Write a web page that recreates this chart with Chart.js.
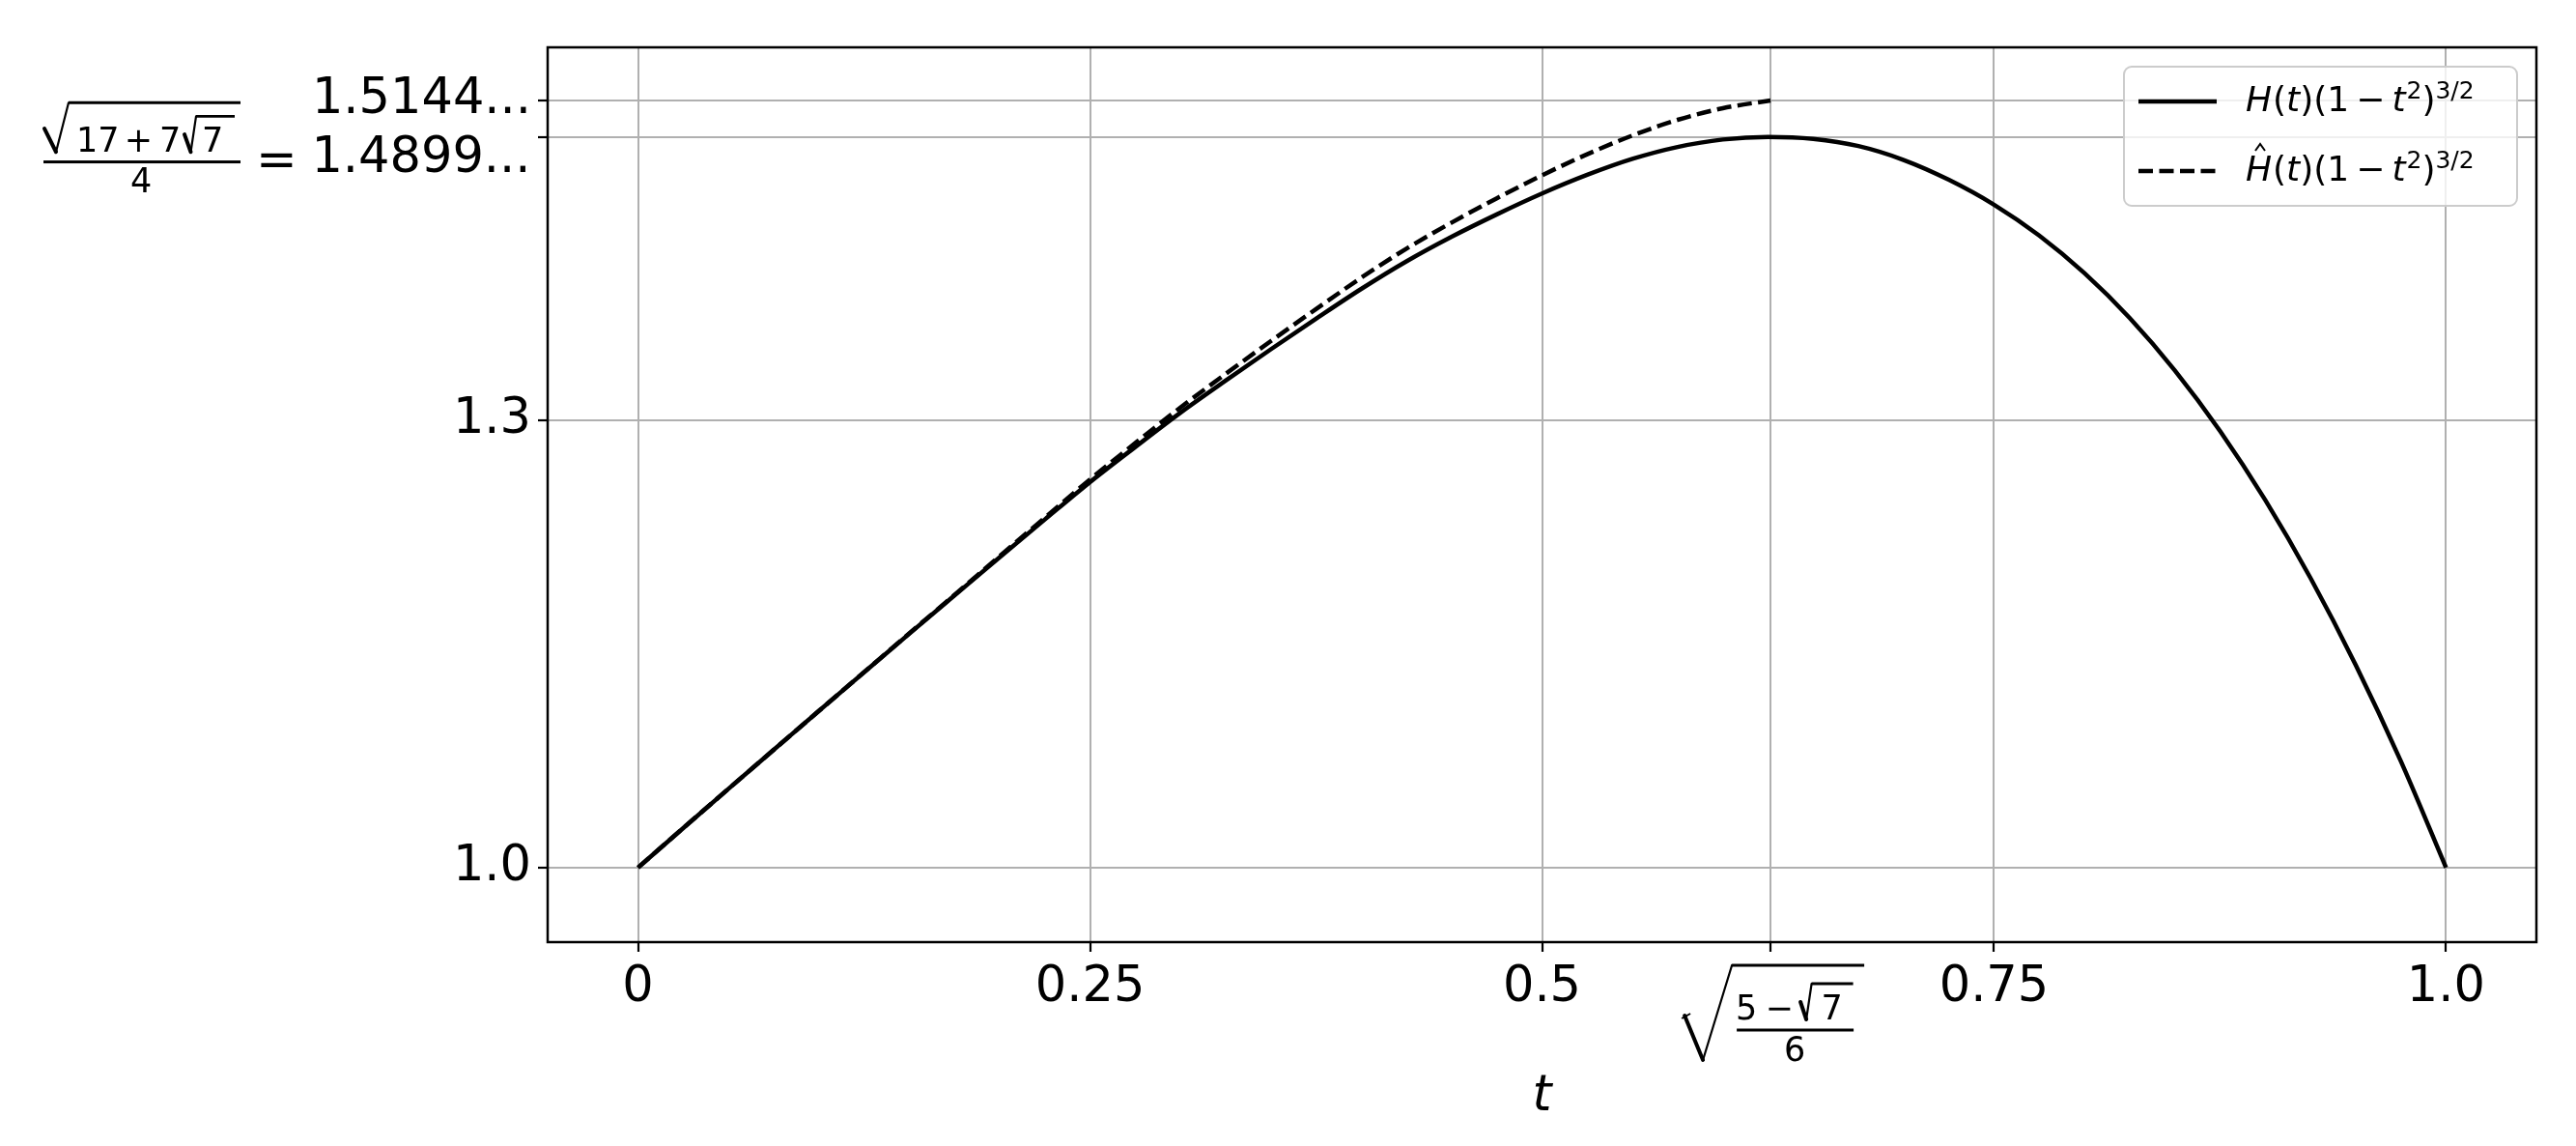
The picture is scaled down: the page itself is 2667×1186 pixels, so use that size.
<!DOCTYPE html>
<html>
<head>
<meta charset="utf-8">
<script src="https://cdn.jsdelivr.net/npm/chart.js@4.4.1/dist/chart.umd.min.js"></script>
<style>
  html, body { margin: 0; padding: 0; background: #fff; }
  #wrap { width: 2667px; height: 1186px; }
</style>
</head>
<body>
<div id="wrap"><canvas id="myChart" width="2667" height="1186"></canvas></div>
<script>
// curve samples
var tValues = [0, 0.025, 0.05, 0.075, 0.1, 0.125, 0.15, 0.175, 0.2, 0.225, 0.25, 0.275, 0.3, 0.325, 0.35, 0.375, 0.4, 0.425, 0.45, 0.475, 0.5,
  0.525, 0.55, 0.575, 0.6, 0.625, 0.65, 0.675, 0.7, 0.725, 0.75, 0.775, 0.8, 0.825, 0.85, 0.875, 0.9, 0.925, 0.95, 0.975, 1.0];
var hValues = [1.000, 1.0265, 1.0528, 1.0789, 1.105, 1.1309, 1.1568, 1.1824, 1.208, 1.2334, 1.2585, 1.282, 1.305, 1.3265, 1.3475, 1.368, 1.388, 1.4065, 1.423, 1.438, 1.452,
  1.4645, 1.4752, 1.4832, 1.4882, 1.4899, 1.4886, 1.4838, 1.4745, 1.4612, 1.4445, 1.4238, 1.3986, 1.3686, 1.3334, 1.2928, 1.2465, 1.1943, 1.136, 1.0714, 1.000];
var tHatValues = [0, 0.025, 0.05, 0.075, 0.1, 0.125, 0.15, 0.175, 0.2, 0.225, 0.25, 0.275, 0.3, 0.325, 0.35, 0.375, 0.4, 0.425, 0.45, 0.475, 0.5,
  0.525, 0.55, 0.575, 0.6, 0.6264];
var hHatValues = [1.000, 1.0265, 1.0528, 1.0789, 1.105, 1.131, 1.157, 1.1828, 1.2088, 1.2346, 1.2603, 1.2846, 1.3085, 1.331, 1.353, 1.3745, 1.3955, 1.415, 1.4325, 1.4488, 1.4642,
  1.4783, 1.4909, 1.5014, 1.5092, 1.5144];

var xTicks = [0, 0.25, 0.5, 0.6264, 0.75, 1.0];
var xTickLabels = ['0', '0.25', '0.5', '√((5 − √7)/6)', '0.75', '1.0'];
var yTicks = [1.0, 1.3, 1.4899, 1.5144];
var yTickLabels = ['1.0', '1.3', '√(17 + 7√7)/4 = 1.4899...', '1.5144...'];
var seriesNames = ['H(t)(1 − t²)^(3/2)', 'Ĥ(t)(1 − t²)^(3/2)'];

var FONT = '"DejaVu Sans", sans-serif';

function points(xs, ys) {
  return xs.map(function (x, i) { return { x: x, y: ys[i] }; });
}

function isMath(label) {
  return label.indexOf('√') >= 0;
}

// small text helper, returns the advance width
function put(ctx, s, x, y, size, italic) {
  ctx.font = (italic ? 'italic ' : '') + size + 'px ' + FONT;
  ctx.textAlign = 'left';
  ctx.textBaseline = 'alphabetic';
  ctx.fillText(s, x, y);
  return ctx.measureText(s).width;
}

// radical sign: start, V bottom, top, end of overline
function radical(ctx, p0, p1, p2, p3) {
  ctx.save();
  ctx.strokeStyle = '#000';
  ctx.lineCap = 'round';
  ctx.lineJoin = 'round';
  ctx.lineWidth = 4;
  ctx.beginPath(); ctx.moveTo(p0[0], p0[1]); ctx.lineTo(p1[0], p1[1]); ctx.stroke();
  ctx.lineWidth = 2.2;
  ctx.beginPath(); ctx.moveTo(p1[0], p1[1]); ctx.lineTo(p2[0], p2[1]); ctx.stroke();
  ctx.lineWidth = 2.8;
  ctx.lineCap = 'butt';
  ctx.beginPath(); ctx.moveTo(p2[0], p2[1]); ctx.lineTo(p3[0], p3[1]); ctx.stroke();
  ctx.restore();
}

function bar(ctx, x1, x2, y) {
  ctx.fillRect(x1, y - 1.5, x2 - x1, 3);
}

// draw the two math tick labels and the axis title
var mathLabels = {
  id: 'mathLabels',
  afterDraw: function (chart) {
    var ctx = chart.ctx;
    var xs = chart.scales.x, ys = chart.scales.y;
    var b = chart.chartArea.bottom;
    ctx.save();
    ctx.fillStyle = '#000';

    // x tick: sqrt((5 - sqrt7)/6)
    xTicks.forEach(function (v, i) {
      if (!isMath(xTickLabels[i])) return;
      var x0 = xs.getPixelForValue(v);
      radical(ctx, [x0 - 89, b + 76], [x0 - 70, b + 122], [x0 - 40, b + 24], [x0 + 97, b + 24]);
      ctx.lineWidth = 2;
      ctx.beginPath(); ctx.moveTo(x0 - 92, b + 79); ctx.lineTo(x0 - 83, b + 74); ctx.stroke();
      bar(ctx, x0 - 35, x0 + 86, b + 91);
      put(ctx, '5', x0 - 36, b + 80, 35);
      put(ctx, '−', x0 - 5.5, b + 80, 35);
      radical(ctx, [x0 + 31, b + 62], [x0 + 37, b + 80], [x0 + 42.5, b + 43], [x0 + 85.5, b + 43]);
      put(ctx, '7', x0 + 52.5, b + 80, 35);
      put(ctx, '6', x0 + 14, b + 123, 35);
    });

    // y tick: sqrt(17 + 7 sqrt7)/4 = 1.4899...
    yTicks.forEach(function (v, i) {
      if (!isMath(yTickLabels[i])) return;
      var y0 = ys.getPixelForValue(v);
      var R = chart.chartArea.left - 17.5;
      ctx.font = '51px ' + FONT;
      ctx.textAlign = 'right';
      ctx.textBaseline = 'alphabetic';
      ctx.fillText('1.4899...', R, y0 + 36);
      put(ctx, '=', R - 284.5, y0 + 40, 51);
      var L = R - 504.5; // left edge of the fraction
      bar(ctx, L, L + 204, y0 + 25.8);
      radical(ctx, [L + 1, y0 - 8.7], [L + 13, y0 + 15.5], [L + 26, y0 - 35.5], [L + 204, y0 - 35.5]);
      put(ctx, '17', L + 34, y0 + 15.5, 35);
      put(ctx, '+', L + 83.8, y0 + 15.5, 35);
      put(ctx, '7', L + 119.9, y0 + 15.5, 35);
      radical(ctx, [L + 146, y0 - 2.7], [L + 152.5, y0 + 15.5], [L + 158, y0 - 21.4], [L + 198, y0 - 21.4]);
      put(ctx, '7', L + 163.9, y0 + 15.5, 35);
      put(ctx, '4', L + 89.9, y0 + 57, 35);
    });

    // axis title
    ctx.font = 'italic 51px ' + FONT;
    ctx.textAlign = 'center';
    ctx.fillText('t', (chart.chartArea.left + chart.chartArea.right) / 2, b + 174);
    ctx.restore();
  }
};

// black frame round the plot
var frame = {
  id: 'frame',
  afterDatasetsDraw: function (chart) {
    var a = chart.chartArea, ctx = chart.ctx;
    ctx.save();
    ctx.strokeStyle = '#000';
    ctx.lineWidth = 2.5;
    ctx.strokeRect(a.left, a.top, a.right - a.left, a.bottom - a.top);
    ctx.restore();
  }
};

// legend entry text: H(t)(1 - t^2)^{3/2}, laid out piece by piece
function legendText(ctx, x, y, hat) {
  var big = 36, sup = 25, up = 13;
  var hx = x;
  x += put(ctx, 'H', x, y, big, true) + 1;
  if (hat) {
    ctx.save();
    ctx.lineWidth = 2;
    ctx.beginPath();
    ctx.moveTo(hx + 10, y - 31); ctx.lineTo(hx + 15, y - 38); ctx.lineTo(hx + 20, y - 31);
    ctx.stroke();
    ctx.restore();
  }
  x += put(ctx, '(', x, y, big);
  x += put(ctx, 't', x, y, big, true);
  x += put(ctx, ')', x, y, big);
  x += put(ctx, '(', x, y, big);
  x += put(ctx, '1', x, y, big) + 7;
  x += put(ctx, '−', x, y, big) + 7;
  x += put(ctx, 't', x, y, big, true) + 1;
  x += put(ctx, '2', x, y - up, sup);
  x += put(ctx, ')', x, y, big);
  put(ctx, '3/2', x, y - up, sup);
}

var legendBox = {
  id: 'legendBox',
  afterDraw: function (chart) {
    var a = chart.chartArea, ctx = chart.ctx;
    var w = 407, h = 144;
    var x = a.right - 20 - w, y = a.top + 20;
    ctx.save();
    ctx.beginPath();
    ctx.roundRect(x, y, w, h, 8);
    ctx.fillStyle = 'rgba(255, 255, 255, 0.8)';
    ctx.fill();
    ctx.strokeStyle = '#cccccc';
    ctx.lineWidth = 2;
    ctx.stroke();

    chart.data.datasets.forEach(function (ds, i) {
      var ly = y + 36 + i * 72;
      ctx.strokeStyle = ds.borderColor;
      ctx.lineWidth = ds.borderWidth;
      ctx.setLineDash(ds.borderDash || []);
      ctx.beginPath();
      ctx.moveTo(x + 15, ly);
      ctx.lineTo(x + 96, ly);
      ctx.stroke();
      ctx.setLineDash([]);
      ctx.fillStyle = '#000';
      legendText(ctx, x + 126, ly + 10, i === 1);
    });
    ctx.restore();
  }
};

var gridStyle = {
  color: '#b0b0b0',
  lineWidth: 2,
  tickColor: '#000',
  tickLength: 10,
  tickWidth: 2.2
};

var chart = new Chart(document.getElementById('myChart'), {
  type: 'line',
  data: {
    datasets: [{
      label: seriesNames[0],
      data: points(tValues, hValues),
      borderColor: '#000',
      borderWidth: 4.5,
      pointRadius: 0,
      fill: false,
      cubicInterpolationMode: 'monotone',
      order: 2
    }, {
      label: seriesNames[1],
      data: points(tHatValues, hHatValues),
      borderColor: '#000',
      borderWidth: 4.5,
      borderDash: [15, 6.5],
      pointRadius: 0,
      fill: false,
      cubicInterpolationMode: 'monotone',
      order: 1
    }]
  },
  options: {
    responsive: false,
    animation: false,
    devicePixelRatio: 1,
    layout: { padding: { top: 49, right: 41, bottom: 0, left: 0 } },
    plugins: {
      legend: { display: false },
      tooltip: { enabled: false }
    },
    scales: {
      x: {
        type: 'linear',
        min: -0.05,
        max: 1.05,
        afterBuildTicks: function (axis) {
          axis.ticks = xTicks.map(function (v) { return { value: v }; });
        },
        afterFit: function (axis) { axis.height = 211; },
        grid: gridStyle,
        border: { display: false },
        ticks: {
          autoSkip: false,
          maxRotation: 0,
          padding: 7,
          color: '#000',
          font: { family: FONT, size: 51 },
          callback: function (value, index) {
            var s = xTickLabels[index];
            return isMath(s) ? '' : s;
          }
        }
      },
      y: {
        type: 'linear',
        min: 0.95,
        max: 1.55,
        afterBuildTicks: function (axis) {
          axis.ticks = yTicks.map(function (v) { return { value: v }; });
        },
        afterFit: function (axis) { axis.width = 567; },
        grid: gridStyle,
        border: { display: false },
        ticks: {
          autoSkip: false,
          padding: 7,
          color: '#000',
          font: { family: FONT, size: 51 },
          callback: function (value, index) {
            var s = yTickLabels[index];
            return isMath(s) ? '' : s;
          }
        }
      }
    }
  },
  plugins: [frame, mathLabels, legendBox]
});
</script>
</body>
</html>
